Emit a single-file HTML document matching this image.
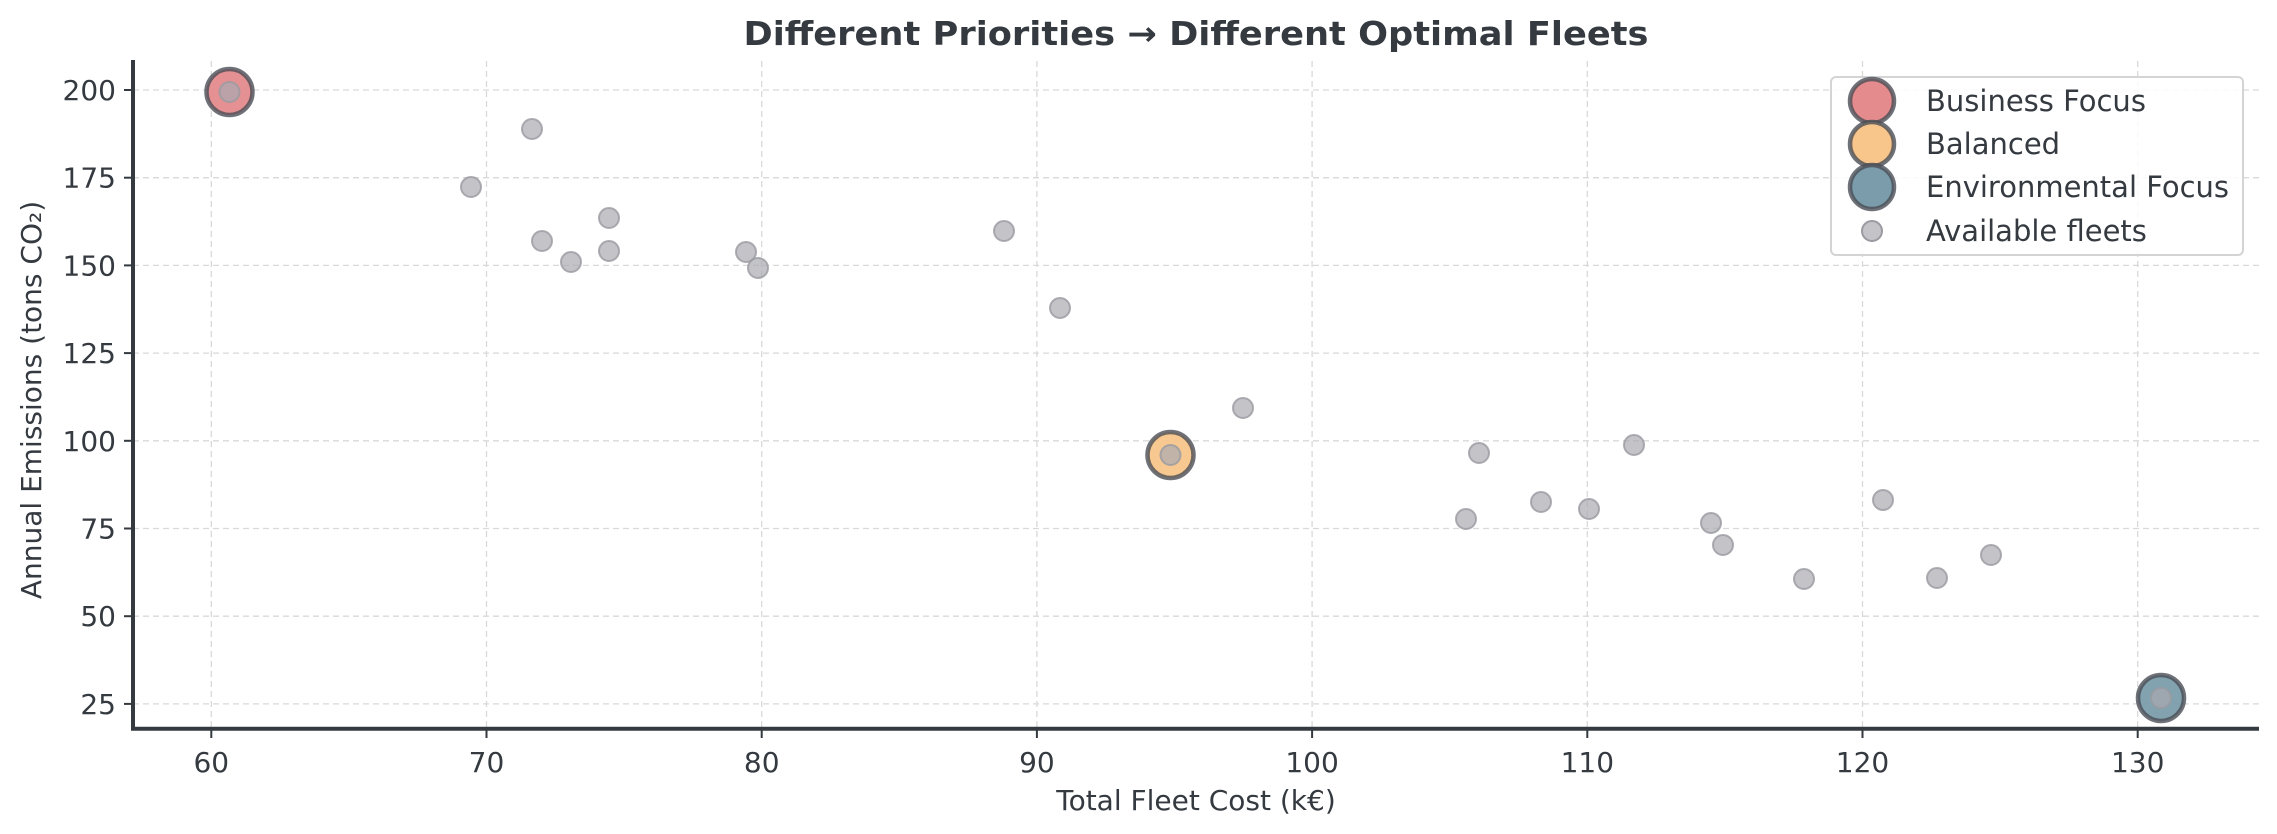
<!DOCTYPE html>
<html><head><meta charset="utf-8"><style>
html,body{margin:0;padding:0;background:#fff;}
svg{display:block;font-family:"DejaVu Sans","Liberation Sans",sans-serif;}
</style></head><body>
<svg width="2277" height="834" viewBox="0 0 2277 834" xmlns="http://www.w3.org/2000/svg">
<rect width="2277" height="834" fill="#fff"/>
<g stroke="#d9d9d9" stroke-width="1.3" stroke-dasharray="6,4">
<line x1="211.3" y1="61" x2="211.3" y2="728"/>
<line x1="486.5" y1="61" x2="486.5" y2="728"/>
<line x1="761.7" y1="61" x2="761.7" y2="728"/>
<line x1="1036.9" y1="61" x2="1036.9" y2="728"/>
<line x1="1312.1" y1="61" x2="1312.1" y2="728"/>
<line x1="1587.3" y1="61" x2="1587.3" y2="728"/>
<line x1="1862.5" y1="61" x2="1862.5" y2="728"/>
<line x1="2137.7" y1="61" x2="2137.7" y2="728"/>
<line x1="133" y1="90" x2="2259" y2="90"/>
<line x1="133" y1="177.7" x2="2259" y2="177.7"/>
<line x1="133" y1="265.4" x2="2259" y2="265.4"/>
<line x1="133" y1="353.1" x2="2259" y2="353.1"/>
<line x1="133" y1="440.8" x2="2259" y2="440.8"/>
<line x1="133" y1="528.5" x2="2259" y2="528.5"/>
<line x1="133" y1="616.2" x2="2259" y2="616.2"/>
<line x1="133" y1="703.9" x2="2259" y2="703.9"/>
</g>
<g stroke="#343a40" stroke-width="4">
<line x1="133" y1="60" x2="133" y2="730.5"/>
<line x1="131" y1="728.7" x2="2259" y2="728.7"/>
</g>
<g stroke="#343a40" stroke-width="2">
<line x1="211.3" y1="728" x2="211.3" y2="738"/>
<line x1="486.5" y1="728" x2="486.5" y2="738"/>
<line x1="761.7" y1="728" x2="761.7" y2="738"/>
<line x1="1036.9" y1="728" x2="1036.9" y2="738"/>
<line x1="1312.1" y1="728" x2="1312.1" y2="738"/>
<line x1="1587.3" y1="728" x2="1587.3" y2="738"/>
<line x1="1862.5" y1="728" x2="1862.5" y2="738"/>
<line x1="2137.7" y1="728" x2="2137.7" y2="738"/>
<line x1="124" y1="90" x2="133" y2="90"/>
<line x1="124" y1="177.7" x2="133" y2="177.7"/>
<line x1="124" y1="265.4" x2="133" y2="265.4"/>
<line x1="124" y1="353.1" x2="133" y2="353.1"/>
<line x1="124" y1="440.8" x2="133" y2="440.8"/>
<line x1="124" y1="528.5" x2="133" y2="528.5"/>
<line x1="124" y1="616.2" x2="133" y2="616.2"/>
<line x1="124" y1="703.9" x2="133" y2="703.9"/>
</g>
<g fill="#343a40" font-size="28" text-anchor="middle">
<text x="211.3" y="772">60</text><text x="486.5" y="772">70</text><text x="761.7" y="772">80</text><text x="1036.9" y="772">90</text><text x="1312.1" y="772">100</text><text x="1587.3" y="772">110</text><text x="1862.5" y="772">120</text><text x="2137.7" y="772">130</text>
</g>
<g fill="#343a40" font-size="28" text-anchor="end">
<text x="116" y="100">200</text><text x="116" y="187.7">175</text><text x="116" y="275.4">150</text><text x="116" y="363.1">125</text><text x="116" y="450.8">100</text><text x="116" y="538.5">75</text><text x="116" y="626.2">50</text><text x="116" y="713.9">25</text>
</g>
<text x="1196" y="810" fill="#343a40" font-size="28" text-anchor="middle">Total Fleet Cost (k€)</text>
<text transform="translate(41,400) rotate(-90)" fill="#343a40" font-size="28" text-anchor="middle">Annual Emissions (tons CO₂)</text>
<text x="1196" y="45" fill="#343a40" font-size="33" font-weight="bold" text-anchor="middle" textLength="905" lengthAdjust="spacingAndGlyphs">Different Priorities → Different Optimal Fleets</text>
<g stroke="#4a4e55" stroke-opacity="0.8" stroke-width="4.5">
<circle cx="229.5" cy="92" r="23" fill="#e48b8d" fill-opacity="0.95"/>
<circle cx="1170.5" cy="455" r="23" fill="#f8c58b" fill-opacity="0.95"/>
<circle cx="2161" cy="698" r="23" fill="#7b9dab" fill-opacity="0.95"/>
</g>
<g fill="#a9aab0" fill-opacity="0.7" stroke="#9a9ba1" stroke-opacity="0.8" stroke-width="2">
<circle cx="229.5" cy="92" r="10"/>
<circle cx="532" cy="129" r="10"/>
<circle cx="471" cy="187" r="10"/>
<circle cx="542" cy="241" r="10"/>
<circle cx="571" cy="262" r="10"/>
<circle cx="609" cy="218" r="10"/>
<circle cx="609" cy="251" r="10"/>
<circle cx="746" cy="252" r="10"/>
<circle cx="758" cy="268" r="10"/>
<circle cx="1004" cy="231" r="10"/>
<circle cx="1060" cy="308" r="10"/>
<circle cx="1243" cy="408" r="10"/>
<circle cx="1170.5" cy="455" r="10"/>
<circle cx="1479" cy="453" r="10"/>
<circle cx="1634" cy="445" r="10"/>
<circle cx="1466" cy="519" r="10"/>
<circle cx="1541" cy="502" r="10"/>
<circle cx="1589" cy="509" r="10"/>
<circle cx="1711" cy="523" r="10"/>
<circle cx="1723" cy="545" r="10"/>
<circle cx="1804" cy="579" r="10"/>
<circle cx="1883" cy="500" r="10"/>
<circle cx="1937" cy="578" r="10"/>
<circle cx="1991" cy="555" r="10"/>
<circle cx="2161" cy="698" r="10"/>
</g>
<rect x="1831" y="77" width="412" height="178" rx="5" fill="#fff" fill-opacity="0.85" stroke="#d4d4d4" stroke-width="2"/>
<g stroke="#4a4e55" stroke-opacity="0.8" stroke-width="4.5">
<circle cx="1872" cy="101" r="22" fill="#e48b8d"/>
<circle cx="1872" cy="144" r="22" fill="#f8c58b"/>
<circle cx="1872" cy="187" r="22" fill="#7b9dab"/>
</g>
<circle cx="1872" cy="231" r="10" fill="#a9aab0" fill-opacity="0.7" stroke="#9a9ba1" stroke-width="2"/>
<g fill="#343a40" font-size="29">
<text x="1926" y="111">Business Focus</text>
<text x="1926" y="154">Balanced</text>
<text x="1926" y="197">Environmental Focus</text>
<text x="1926" y="241">Available fleets</text>
</g>
</svg>
</body></html>
